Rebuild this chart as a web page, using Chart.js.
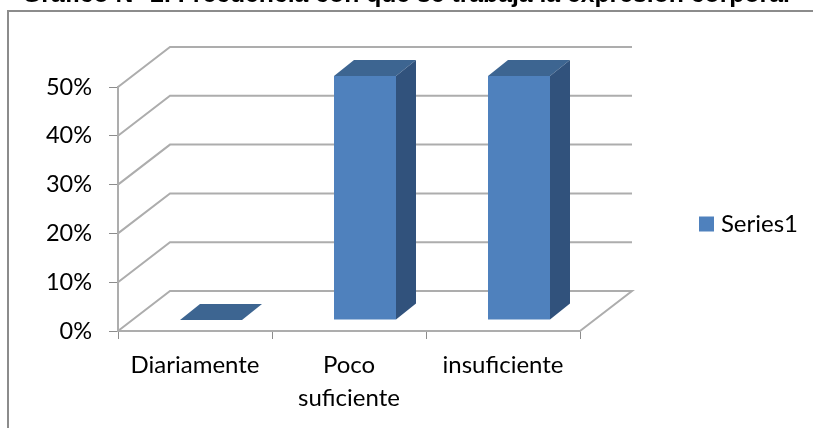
<!DOCTYPE html>
<html>
<head>
<meta charset="utf-8">
<script src="https://cdn.jsdelivr.net/npm/chart.js@4"></script>
<style>
  html, body { margin: 0; padding: 0; background: #fff; overflow: hidden; }
  #wrap { position: relative; width: 813px; height: 428px; overflow: hidden; filter: blur(0.5px); }
  #frame { position: absolute; left: 7px; top: 10px; width: 900px; height: 500px; border: 2px solid #8c8c8c; }
  #title { position: absolute; left: 22px; top: -20px; white-space: nowrap; color: #000;
           font: bold 24.75px "Liberation Sans", sans-serif; }
  canvas { position: absolute; left: 0; top: 0; }
</style>
</head>
<body>
<div id="wrap">
  <div id="frame"></div>
  <div id="title">Gráfico N° 2. Frecuencia con que se trabaja la expresión corporal</div>
  <canvas id="chart" width="813" height="428"></canvas>
</div>
<script>
const categories = ['Diariamente', ['Poco', 'suficiente'], 'insuficiente'];
const seriesName = 'Series1';
const seriesValues = [0, 50, 50];
const yTicks = [0, 10, 20, 30, 40, 50];

const DEPTH_X = 52, DEPTH_Y = 40;   // wall depth
const BAR_SHIFT_X = 16, BAR_SHIFT_Y = 11;
const BAR_DEPTH_X = 20, BAR_DEPTH_Y = 16;
const GRID = '#adadad';
const FONT = 'Lato, "Noto Sans", sans-serif';

const box3d = {
  id: 'box3d',
  afterLayout(chart) {
    // legend box on the left edge, text pushed to the right edge
    const lg = chart.legend;
    lg.left = 699; lg.right = 798;
    lg.top = 212; lg.bottom = 236;
  },
  beforeDatasetsDraw(chart) {
    const { ctx, scales: { x, y } } = chart;
    ctx.save();
    ctx.strokeStyle = GRID;
    ctx.lineWidth = 2;
    yTicks.forEach(v => {
      const py = y.getPixelForValue(v);
      ctx.beginPath();
      ctx.moveTo(x.left, py);
      ctx.lineTo(x.left + DEPTH_X, py - DEPTH_Y);
      ctx.lineTo(x.right + DEPTH_X, py - DEPTH_Y);
      if (v === 0) ctx.lineTo(x.right, py);
      ctx.stroke();
    });
    ctx.restore();
  },
  beforeDatasetDraw(chart) {
    chart.ctx.save();
    chart.ctx.translate(BAR_SHIFT_X, -BAR_SHIFT_Y);
  },
  afterDatasetDraw(chart, args) {
    const ctx = chart.ctx;
    args.meta.data.forEach(bar => {
      const l = bar.x - bar.width / 2, r = bar.x + bar.width / 2;
      const top = bar.y, base = bar.base;
      // top face
      ctx.fillStyle = '#3d6591';
      ctx.beginPath();
      ctx.moveTo(l, top);
      ctx.lineTo(l + BAR_DEPTH_X, top - BAR_DEPTH_Y);
      ctx.lineTo(r + BAR_DEPTH_X, top - BAR_DEPTH_Y);
      ctx.lineTo(r, top);
      ctx.closePath();
      ctx.fill();
      // side face
      ctx.fillStyle = '#31527c';
      ctx.beginPath();
      ctx.moveTo(r, top);
      ctx.lineTo(r + BAR_DEPTH_X, top - BAR_DEPTH_Y);
      ctx.lineTo(r + BAR_DEPTH_X, base - BAR_DEPTH_Y);
      ctx.lineTo(r, base);
      ctx.closePath();
      ctx.fill();
    });
    ctx.restore();
  }
};

new Chart(document.getElementById('chart'), {
  type: 'bar',
  data: {
    labels: categories,
    datasets: [{
      label: seriesName,
      data: seriesValues,
      backgroundColor: '#4f81bd',
      barPercentage: 1,
      categoryPercentage: 62 / 154,
      clip: false
    }]
  },
  plugins: [box3d],
  options: {
    responsive: false,
    animation: false,
    layout: { padding: { left: 0, top: 87, right: 233, bottom: 0 } },
    plugins: {
      title: { display: false },
      tooltip: { enabled: false },
      legend: {
        position: 'chartArea',
        align: 'start',
        labels: { boxWidth: 15, boxHeight: 15, padding: 0, color: '#000', textAlign: 'right', font: { family: FONT, size: 24 } }
      }
    },
    scales: {
      x: {
        afterFit(s) { s.height = 97; },
        grid: { drawOnChartArea: false, drawTicks: true, tickLength: 8, color: '#8c8c8c', offset: true },
        border: { color: GRID, width: 2 },
        ticks: { color: '#000', maxRotation: 0, autoSkip: false, padding: 10, font: { family: FONT, size: 24, lineHeight: 1.375 } }
      },
      y: {
        min: 0,
        max: 50,
        afterFit(s) { s.width = 118; },
        grid: { drawOnChartArea: false, tickLength: 9, color: '#8c8c8c' },
        border: { color: GRID, width: 2 },
        ticks: { stepSize: 10, color: '#000', padding: 17, callback: v => v + '%', font: { family: FONT, size: 23.5 } }
      }
    }
  }
});
</script>
</body>
</html>
